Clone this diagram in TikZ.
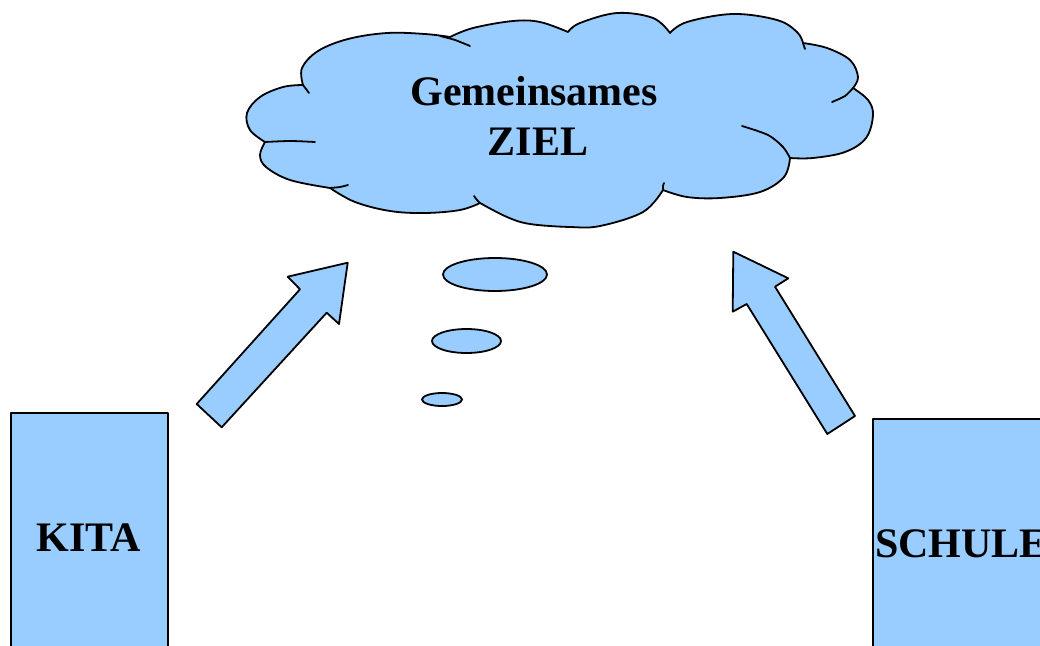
\documentclass[tikz,border=0pt]{standalone}
\usepackage{fontspec}
\setmainfont{Liberation Serif}
\usetikzlibrary{shapes.geometric}
\definecolor{fillblue}{HTML}{99CCFF}
\tikzset{
  shp/.style={draw=black, fill=fillblue, line width=1.8pt, line join=round},
  inner/.style={draw=black, line width=1.8pt, line cap=round},
  bigtext/.style={font=\fontsize{42}{50}\selectfont\bfseries, inner sep=0pt},
  bubble/.style={shp, ellipse, inner sep=0pt},
}
\begin{document}
\begin{tikzpicture}[x=1pt,y=-1pt]
\useasboundingbox (0,0) rectangle (1040,645);
\clip (0,0) rectangle (1040,645);
% cloud
\path[shp] plot[smooth, tension=0.6] coordinates {(303,85) (302,68) (318,51) (348,39) (387,33) (425,34) (450,37)}
 -- plot[smooth, tension=0.6] coordinates {(450,37) (473,28) (513,21) (540,22) (568,32)}
 -- plot[smooth, tension=0.6] coordinates {(568,32) (580,23) (617,13) (653,18) (670,33)}
 -- plot[smooth, tension=0.6] coordinates {(670,33) (687,22) (733,14) (777,20) (797,32) (803,43)}
 -- plot[smooth, tension=0.6] coordinates {(803,43) (827,48) (850,60) (858,77) (853,88)}
 -- plot[smooth, tension=0.6] coordinates {(853,88) (868,100) (873,115) (866,138) (845,152) (813,158) (790,158)}
 -- plot[smooth, tension=0.6] coordinates {(790,158) (784,177) (760,192) (720,198) (687,197) (663,190)}
 -- plot[smooth, tension=0.6] coordinates {(663,190) (643,212) (600,226) (570,227) (530,224) (507,217) (480,203)}
 -- plot[smooth, tension=0.6] coordinates {(480,203) (460,210) (425,213) (390,211) (355,202) (330,188)}
 -- plot[smooth, tension=0.6] coordinates {(330,188) (290,180) (266,167) (260,155) (265,142)}
 -- plot[smooth, tension=0.6] coordinates {(265,142) (250,130) (247,113) (260,97) (283,87) (303,85)} -- cycle;
\draw[inner] plot[smooth] coordinates {(303,85) (306,89) (309,93)};
\draw[inner] plot[smooth] coordinates {(440,36) (455,40) (470,46)};
\draw[inner] plot[smooth] coordinates {(803,43) (804,46) (805,49)};
\draw[inner] plot[smooth] coordinates {(853,88) (845,96) (832,102)};
\draw[inner] plot[smooth] coordinates {(742,126) (768,135) (783,147) (790,158)};
\draw[inner] plot[smooth] coordinates {(663,190) (663,186) (664,183)};
\draw[inner] plot[smooth] coordinates {(480,203) (477,200) (474,196)};
\draw[inner] plot[smooth] coordinates {(330,188) (340,187) (348,185)};
\draw[inner] plot[smooth] coordinates {(265,142) (290,141) (315,142)};
\node[bigtext, anchor=base] (gem) at (534,105) {Gemeinsames};
\node[bigtext, anchor=base] (ziel) at (538,155) {ZIEL};
% thought bubbles
\node[bubble, minimum width=104pt, minimum height=33pt] (b1) at (495,274.5) {};
\node[bubble, minimum width=69pt, minimum height=24pt] (b2) at (466.5,341) {};
\node[bubble, minimum width=40pt, minimum height=13pt] (b3) at (442,399.5) {};
% arrows
\path[shp] (347.7,262.7) -- (287.7,276.7) -- (300,289.3) -- (196.7,404) -- (221.7,427.3) -- (326.7,312.7) -- (339,324) -- cycle;
\path[shp] (733.3,251.7) -- (788.3,278.3) -- (775,286.7) -- (855,416) -- (827.3,434) -- (746.7,304) -- (732.7,311.7) -- cycle;
% boxes
\node[shp, rectangle, minimum width=157pt, minimum height=300pt, anchor=north west, inner sep=0pt] (kitabox) at (10,412) {};
\node[bigtext, anchor=base] (kita) at (88.5,551.7) {KITA};
\node[shp, rectangle, minimum width=200pt, minimum height=300pt, anchor=north west, inner sep=0pt] (schulebox) at (872,418) {};
\node[bigtext, anchor=base west] (schule) at (875,557) {SCHULE};
\end{tikzpicture}
\end{document}
